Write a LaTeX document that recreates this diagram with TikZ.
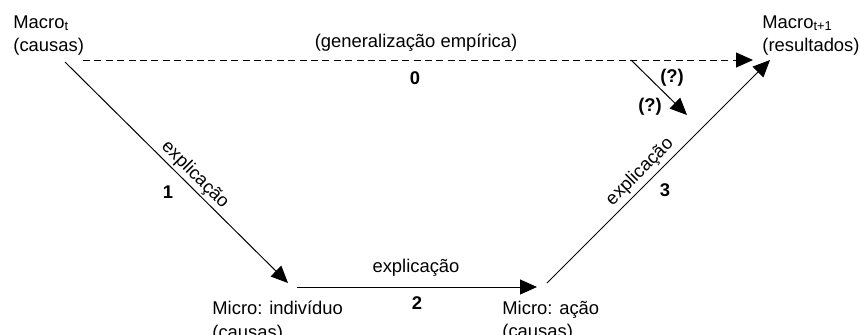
\documentclass[tikz,border=0pt]{standalone}
\usepackage{fontspec}
\setmainfont{Liberation Sans}
\usetikzlibrary{arrows.meta}

\begin{document}
\begin{tikzpicture}[x=0.5pt,y=-0.5pt,font=\fontsize{9.2}{11.6}\selectfont,
	seta/.style={-{Triangle[length=8.5pt,width=7.5pt]},line width=0.5pt},
	nivel/.style={anchor=north west,align=left,inner sep=0pt},
	rotulo/.style={inner sep=0pt},
	numero/.style={inner sep=0pt,font=\fontsize{9.2}{11.6}\selectfont\bfseries}]
	\useasboundingbox (0,0) rectangle (860,334);
	% niveis macro e micro
	\node (macroT) at (13,15) [nivel] {Macro\textsubscript{t}\\(causas)};
	\node (macroT1) at (762,15) [nivel] {Macro\textsubscript{t+1}\\(resultados)};
	\node (microInd) at (212,301) [nivel] {Micro: indivíduo\\(causas)};
	\node (microAcao) at (502,301) [nivel] {Micro: ação\\(causas)};
	% pontas das setas
	\coordinate (a0) at (83,60);
	\coordinate (b0) at (753,60);
	\coordinate (a1) at (65,62);
	\coordinate (b1) at (288,283);
	\coordinate (a2) at (297,287);
	\coordinate (b2) at (537,287);
	\coordinate (a3) at (547,283);
	\coordinate (b3) at (770,60);
	\coordinate (aq) at (631,60);
	\coordinate (bq) at (687,115);
	\draw[seta,dash pattern=on 3.5pt off 2.2pt] (a0) -- (b0);
	\draw[seta] (a1) -- (b1);
	\draw[seta] (a2) -- (b2);
	\draw[seta] (a3) -- (b3);
	\draw[seta] (aq) -- (bq);
	% rotulos
	\node (r0) at (416,43) [rotulo] {(generalização empírica)};
	\node (n0) at (415,78) [numero] {0};
	\node (r1) at (195,175) [rotulo,rotate=-45] {explicação};
	\node (n1) at (168,192) [numero] {1};
	\node (r2) at (416,268) [rotulo] {explicação};
	\node (n2) at (417,303) [numero] {2};
	\node (r3) at (640,172) [rotulo,rotate=45] {explicação};
	\node (n3) at (665,190) [numero] {3};
	\node (q1) at (672,78) [numero] {(?)};
	\node (q2) at (650,107) [numero] {(?)};
\end{tikzpicture}
\end{document}
